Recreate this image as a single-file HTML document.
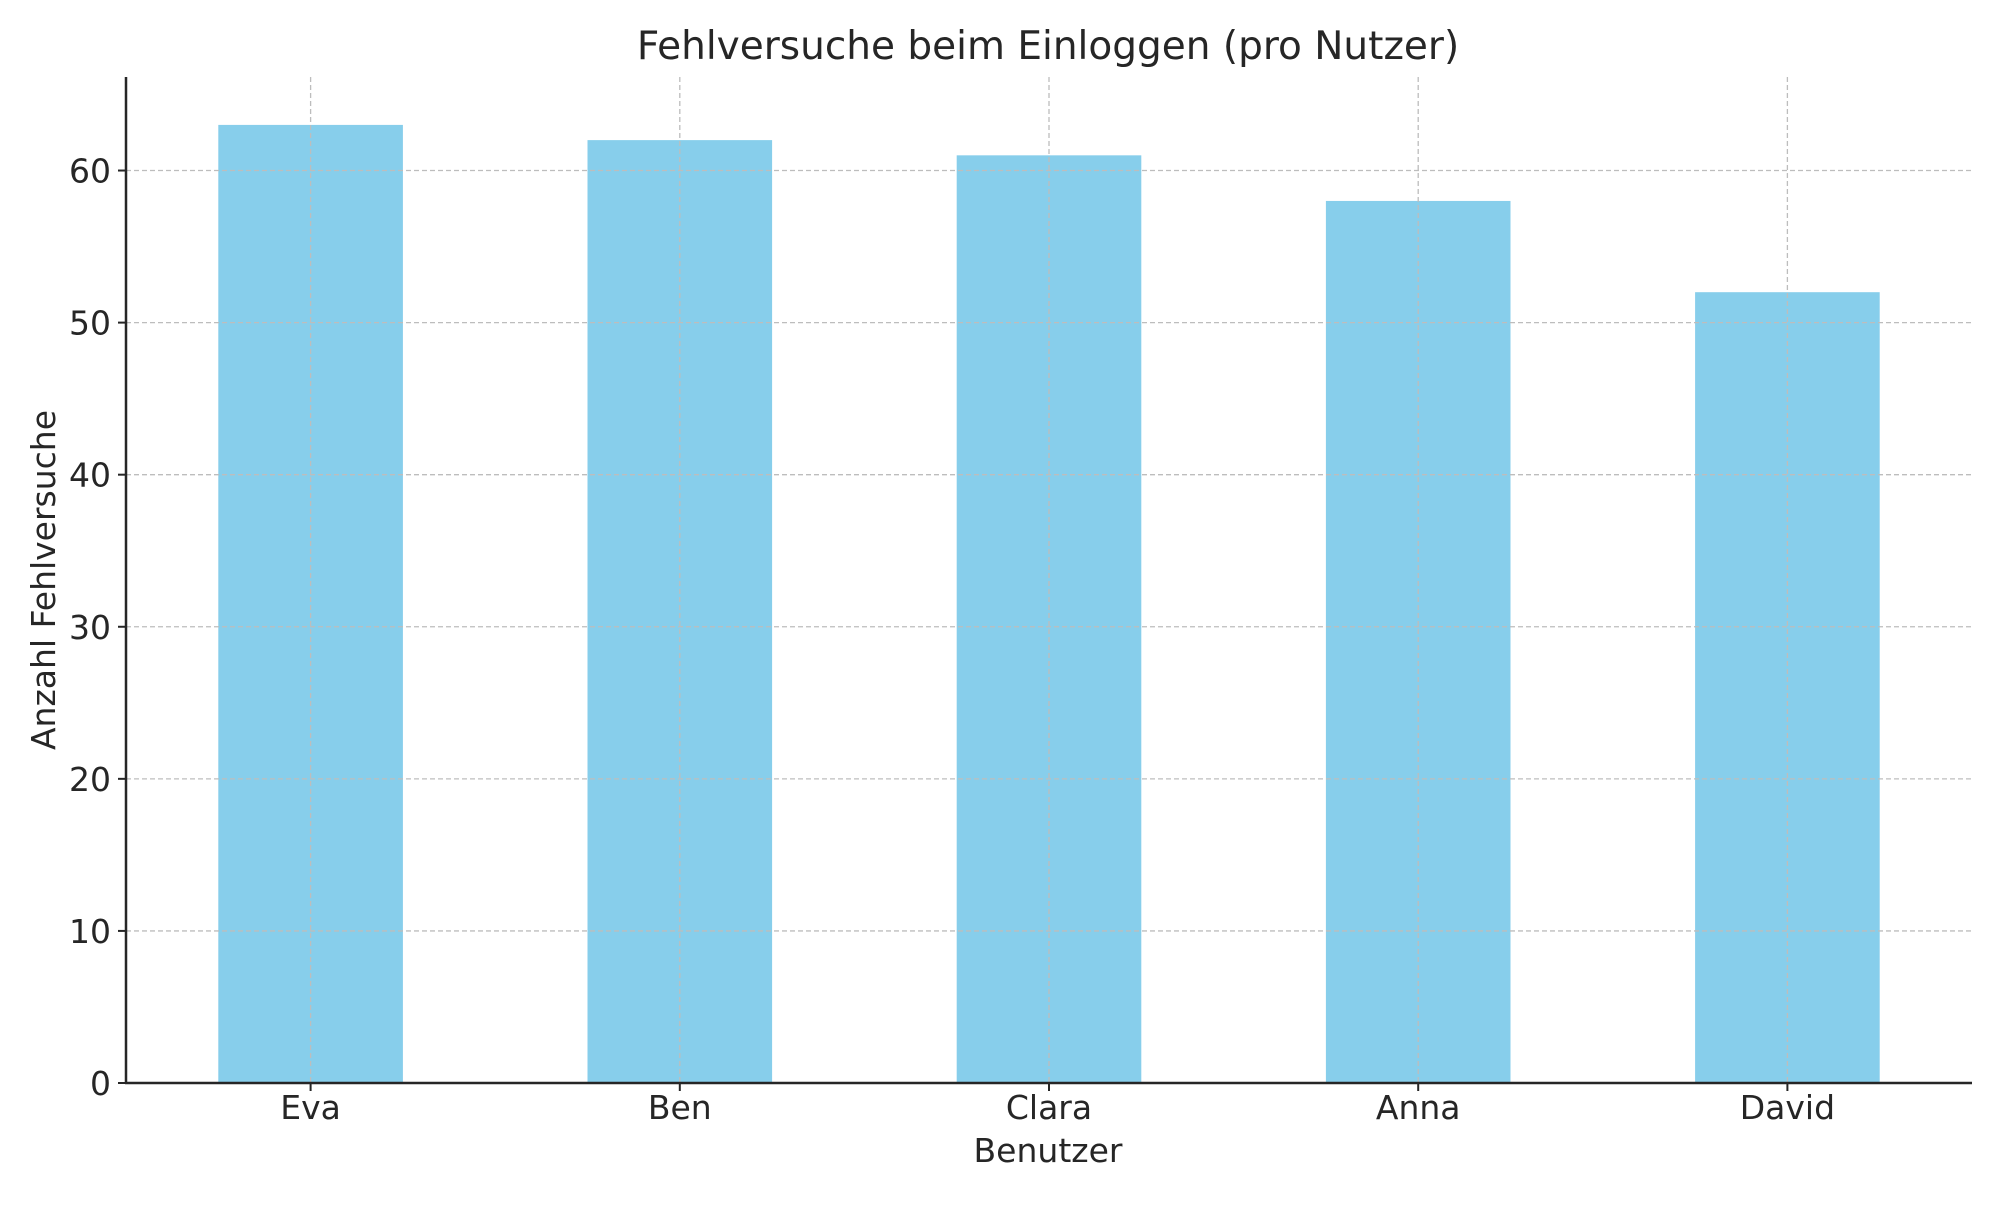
<!DOCTYPE html>
<html><head><meta charset="utf-8"><style>
body{margin:0;background:#fff;}
svg text{font-family:"DejaVu Sans","Liberation Sans",sans-serif;fill:#262626;}
</style></head><body>
<svg id="chart" width="2000" height="1200" xmlns="http://www.w3.org/2000/svg">
<text x="1048" y="59" font-size="39" text-anchor="middle">Fehlversuche beim Einloggen (pro Nutzer)</text>
<text x="1048" y="1162" font-size="33" text-anchor="middle">Benutzer</text>
<text x="0" y="0" font-size="33" text-anchor="middle" transform="translate(55,580) rotate(-90)">Anzahl Fehlversuche</text>
<g id="grid"></g><g id="bars"></g><g id="axes"></g>
</svg>
<script>
const categories = ["Eva","Ben","Clara","Anna","David"];
const values = [63,62,61,58,52];
const yTicks = [0,10,20,30,40,50,60];
const L=126,R=1972,T=77,B=1083,yMax=66.15;
function xs(i){return L+(i+0.5)*(R-L)/categories.length;}
function ys(v){return B-v*(B-T)/yMax;}
const NS="http://www.w3.org/2000/svg";
function mk(tag,attrs,parent){const e=document.createElementNS(NS,tag);for(const k in attrs)e.setAttribute(k,attrs[k]);parent.appendChild(e);return e;}
const grid=document.getElementById('grid'),bars=document.getElementById('bars'),axes=document.getElementById('axes');
const bw=0.5*(R-L)/categories.length;
yTicks.forEach(t=>{
  const y=ys(t);
  if(t>0){const g=mk('line',{x1:L,x2:R,y1:y,y2:y,stroke:'#bdbdbd','stroke-width':1.3,'stroke-dasharray':'5,3'},grid);
  
  }
  const tk=mk('line',{x1:L-8,x2:L,y1:y,y2:y,stroke:'#262626','stroke-width':2},axes);
  
  
  const tx=mk('text',{x:L-15,y:y+12,'font-size':33,'text-anchor':'end'},axes);
  tx.textContent=t;
  
  
});
categories.forEach((c,i)=>{
  const x=xs(i);
  const r=mk('rect',{x:x-bw/2,y:ys(values[i]),width:bw,height:B-ys(values[i]),fill:'#87ceeb'},bars);
  
  
  const g=mk('line',{x1:x,x2:x,y1:T,y2:B,stroke:'#bdbdbd','stroke-width':1.3,'stroke-dasharray':'5,3'},grid);
  
  
  const tk=mk('line',{x1:x,x2:x,y1:B,y2:B+8,stroke:'#262626','stroke-width':2},axes);
  
  
  const tx=mk('text',{x:x,y:B+36,'font-size':33,'text-anchor':'middle'},axes);
  tx.textContent=c;
  
  
});
document.getElementById('chart').appendChild(grid);
document.getElementById('chart').appendChild(axes);
const ya=mk('line',{x1:L,x2:L,y1:T,y2:B+1,stroke:'#262626','stroke-width':2.5},axes);


const xa=mk('line',{x1:L-1,x2:R,y1:B,y2:B,stroke:'#262626','stroke-width':2.5},axes);


</script>
</body></html>
